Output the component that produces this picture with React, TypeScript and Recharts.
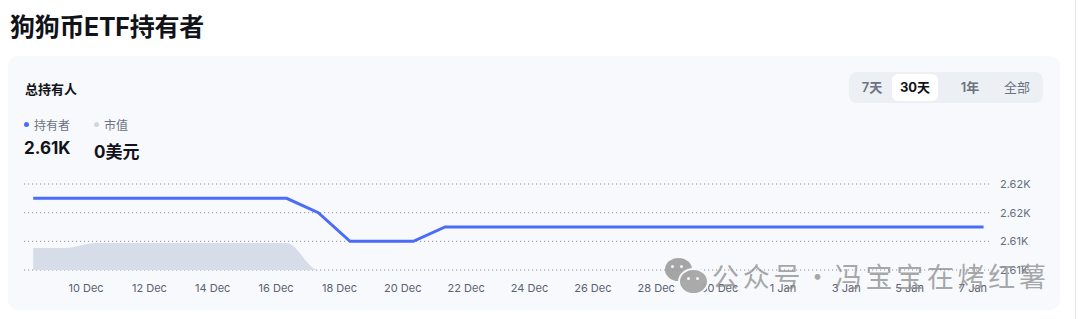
import React from 'react';
import { ComposedChart, Line, Area, XAxis, YAxis, CartesianGrid } from 'recharts';

const dates = [
  '2025-12-08', '2025-12-09', '2025-12-10', '2025-12-11', '2025-12-12', '2025-12-13',
  '2025-12-14', '2025-12-15', '2025-12-16', '2025-12-17', '2025-12-18', '2025-12-19',
  '2025-12-20', '2025-12-21', '2025-12-22', '2025-12-23', '2025-12-24', '2025-12-25',
  '2025-12-26', '2025-12-27', '2025-12-28', '2025-12-29', '2025-12-30', '2025-12-31',
  '2026-01-01', '2026-01-02', '2026-01-03', '2026-01-04', '2026-01-05', '2026-01-06',
  '2026-01-07',
];

// 持有者
const holders = [
  2621, 2621, 2621, 2621, 2621, 2621, 2621, 2621, 2621, 2618, 2612, 2612,
  2612, 2615, 2615, 2615, 2615, 2615, 2615, 2615, 2615, 2615, 2615, 2615,
  2615, 2615, 2615, 2615, 2615, 2615, 2615,
];

// 市值 (百万美元)
const marketValue = [
  2.2, 2.2, 2.7, 2.7, 2.7, 2.7, 2.7, 2.7, 2.7, 0, 0, 0,
  0, 0, 0, 0, 0, 0, 0, 0, 0, 0, 0, 0,
  0, 0, 0, 0, 0, 0, 0,
];

const tickDates = [
  '2025-12-10', '2025-12-12', '2025-12-14', '2025-12-16', '2025-12-18', '2025-12-20',
  '2025-12-22', '2025-12-24', '2025-12-26', '2025-12-28', '2025-12-30', '2026-01-01',
  '2026-01-03', '2026-01-05', '2026-01-07',
];
const yTicks = [2606, 2612, 2618, 2624];
const ranges = ['7天', '30天', '1年', '全部'];

const MONTHS = ['Jan', 'Feb', 'Mar', 'Apr', 'May', 'Jun', 'Jul', 'Aug', 'Sep', 'Oct', 'Nov', 'Dec'];
const HOUR = 3600 * 1000;

const data = dates.map((d, i) => ({
  t: Date.parse(d + 'T00:00:00Z') + 8 * HOUR,
  holders: holders[i],
  mv: marketValue[i],
}));
const xTicks = tickDates.map((d) => Date.parse(d + 'T00:00:00Z'));
const xDomain = [Date.parse(dates[0] + 'T00:00:00Z') + HOUR, Date.parse(dates[dates.length - 1] + 'T00:00:00Z') + 14.4 * HOUR];

const fmtDate = (v: number) => {
  const d = new Date(v);
  return `${d.getUTCDate()} ${MONTHS[d.getUTCMonth()]}`;
};
const fmtK = (v: number) => `${(v / 1000).toFixed(2)}K`;

const FONT = 'Inter, "Noto Sans CJK SC", sans-serif';

const App = () => {
  const last = holders[holders.length - 1];
  const lastMv = marketValue[marketValue.length - 1];
  return (
    <div style={{ position: 'absolute', left: 0, top: 0, width: 1078, height: 319, background: '#fff', fontFamily: FONT, overflow: 'hidden' }}>
      <div style={{ position: 'absolute', left: 10, top: 7, fontSize: 25, fontWeight: 700, color: '#111318', letterSpacing: -0.3 }}>
        狗狗币ETF持有者
      </div>
      <div style={{ position: 'absolute', left: 1075, top: 0, width: 1, height: 319, background: '#e6e8ec' }} />

      <div style={{ position: 'absolute', left: 8, top: 56, width: 1052, height: 254, background: '#f7f9fd', borderRadius: 10 }} />

      <div style={{ position: 'absolute', left: 25, top: 79, fontSize: 13, fontWeight: 700, color: '#111318' }}>总持有人</div>

      <div style={{ position: 'absolute', left: 849, top: 72, width: 194, height: 31, background: '#eceff4', borderRadius: 8 }}>
        {ranges.map((r, i) => {
          const centers = [23, 73, 121, 168];
          const active = i === 1;
          return (
            <div key={r} style={{ position: 'absolute', left: active ? 43 : centers[i] - 22, top: 2, width: active ? 46 : 44, height: 27, borderRadius: 6, background: active ? '#fff' : 'transparent', textAlign: 'center', lineHeight: '27px', fontSize: 13, fontWeight: active ? 700 : i === 3 ? 400 : 600, color: active ? '#111318' : '#6b7280' }}>
              {r}
            </div>
          );
        })}
      </div>

      <div style={{ position: 'absolute', left: 24, top: 116, fontSize: 12, color: '#6b7280', display: 'flex', alignItems: 'center' }}>
        <span style={{ width: 5, height: 5, borderRadius: 3, background: '#4a6cf7', marginRight: 5 }} />持有者
      </div>
      <div style={{ position: 'absolute', left: 94, top: 116, fontSize: 12, color: '#6b7280', display: 'flex', alignItems: 'center' }}>
        <span style={{ width: 5, height: 5, borderRadius: 3, background: '#cfd5e1', marginRight: 5 }} />市值
      </div>
      <div style={{ position: 'absolute', left: 24, top: 138, fontSize: 17, fontWeight: 700, color: '#111318' }}>{fmtK(last).replace('2.62K', '2.61K')}</div>
      <div style={{ position: 'absolute', left: 94, top: 138, fontSize: 17, fontWeight: 700, color: '#111318' }}>{lastMv}美元</div>

      <div style={{ position: 'absolute', left: 0, top: 170 }}>
        <ComposedChart width={1078} height={140} data={data} margin={{ top: 14, right: 26, left: 24, bottom: 0 }}>
          <CartesianGrid yAxisId="h" vertical={false} stroke="#8d93a3" strokeDasharray="1.2 2.8" />
          <XAxis
            dataKey="t"
            type="number"
            scale="time"
            domain={xDomain}
            ticks={xTicks}
            tickFormatter={fmtDate}
            axisLine={false}
            tickLine={false}
            tickMargin={8}
            height={40}
            tick={{ fontSize: 11, fill: '#5b6271', fontFamily: FONT }}
          />
          <YAxis
            yAxisId="h"
            orientation="right"
            domain={[2606, 2624]}
            ticks={yTicks}
            tickFormatter={fmtK}
            axisLine={false}
            tickLine={false}
            width={60}
            tick={{ fontSize: 11, fill: '#687080', fontFamily: FONT, textAnchor: 'start' }}
          />
          <YAxis yAxisId="mv" hide domain={[0, 8.6]} />
          <Area yAxisId="mv" type="monotone" dataKey="mv" fill="#d6dce8" fillOpacity={1} stroke="none" isAnimationActive={false} />
          <Line yAxisId="h" type="linear" dataKey="holders" stroke="#4a6cf7" strokeWidth={3} dot={false} isAnimationActive={false} />
        </ComposedChart>
      </div>

      <div style={{ position: 'absolute', left: 665, top: 258, width: 42, height: 36, pointerEvents: 'none' }}>
        <div style={{ position: 'absolute', left: 0, top: 0, width: 27, height: 23, borderRadius: '50%', background: 'rgba(150,150,150,0.85)' }} />
        <div style={{ position: 'absolute', left: 6, top: 7, width: 3, height: 3, borderRadius: 2, background: '#f7f9fd' }} />
        <div style={{ position: 'absolute', left: 15, top: 7, width: 3, height: 3, borderRadius: 2, background: '#f7f9fd' }} />
        <div style={{ position: 'absolute', left: 13, top: 10, width: 27, height: 23, borderRadius: '50%', background: 'rgba(165,165,165,0.95)', border: '2px solid #f7f9fd' }} />
        <div style={{ position: 'absolute', left: 22, top: 19, width: 3, height: 3, borderRadius: 2, background: '#f7f9fd' }} />
        <div style={{ position: 'absolute', left: 31, top: 19, width: 3, height: 3, borderRadius: 2, background: '#f7f9fd' }} />
      </div>
      <div style={{ position: 'absolute', left: 712, top: 262, fontSize: 27, lineHeight: '27px', color: 'rgba(140,140,140,0.75)', fontFamily: '"Noto Sans CJK SC", sans-serif', letterSpacing: 3.7, whiteSpace: 'nowrap', pointerEvents: 'none' }}>
        公众号・冯宝宝在烤红薯
      </div>
    </div>
  );
};

export default App;
